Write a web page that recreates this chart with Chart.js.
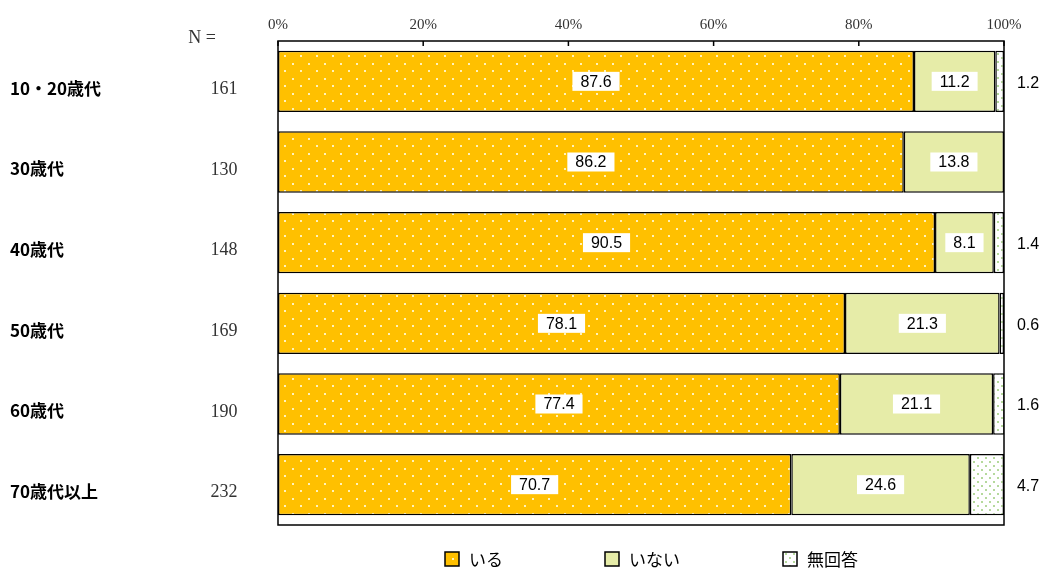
<!DOCTYPE html>
<html><head><meta charset="utf-8">
<script src="https://cdn.jsdelivr.net/npm/chart.js@4/dist/chart.umd.min.js"></script>
<style>html,body{margin:0;padding:0;background:#fff}#wrap{width:1045px;height:571px}</style>
</head><body><div id="wrap"><canvas id="c" width="1045" height="571"></canvas></div>
<script>
const categories = ["10・20歳代","30歳代","40歳代","50歳代","60歳代","70歳代以上"];
const nValues = ["161","130","148","169","190","232"];
const seriesNames = ["いる","いない","無回答"];
const iru = [87.6,86.2,90.5,78.1,77.4,70.7];
const inai = [11.2,13.8,8.1,21.3,21.1,24.6];
const mukaito = [1.2,0,1.4,0.6,1.6,4.7];
const tickValues = [0,20,40,60,80,100];

function makePattern(bg, dot, w, h, dots, r){
  const c = document.createElement('canvas'); c.width=w; c.height=h;
  const g = c.getContext('2d');
  g.fillStyle=bg; g.fillRect(0,0,w,h);
  g.fillStyle=dot;
  dots.forEach(d=>{g.fillRect(d[0],d[1],r,r);});
  return g.createPattern(c,'repeat');
}
const patOrange = makePattern('#FFC000','rgba(255,250,220,0.85)',16,15,[[4,3],[12,10]],2);
const patWhite = makePattern('#FFFFFF','#B5D99C',8,8,[[1,1],[5,5]],2);
const colGreen = '#E6ECA8';

const sans = "'Liberation Sans', Arial, sans-serif";
const serif = "'Liberation Serif', 'DejaVu Serif', serif";
const jp = "'Noto Sans CJK JP', sans-serif";

const overlay = {
  id:'overlay',
  afterDatasetsDraw(chart){
    const g = chart.ctx, ca = chart.chartArea;
    const xs = chart.scales.x, ys = chart.scales.y;
    g.save();
    g.strokeStyle='#000'; g.lineWidth=1.5;
    g.strokeRect(ca.left, ca.top, ca.right-ca.left, ca.bottom-ca.top);
    tickValues.forEach(v=>{
      const x = xs.getPixelForValue(v);
      g.beginPath(); g.moveTo(x, ca.top); g.lineTo(x, ca.top+5); g.stroke();
    });
    g.textAlign='center'; g.textBaseline='middle';
    g.font = "16px "+sans;
    const meta0 = chart.getDatasetMeta(0), meta1 = chart.getDatasetMeta(1);
    [ [iru,meta0], [inai,meta1] ].forEach(([arr,meta])=>{
      arr.forEach((v,i)=>{
        const el = meta.data[i];
        const cx = (el.x + el.base)/2, cy = el.y;
        const t = v.toFixed(1);
        const w = g.measureText(t).width + 16;
        g.fillStyle='#fff'; g.fillRect(cx-w/2, cy-9.5, w, 19);
        g.fillStyle='#000'; g.fillText(t, cx, cy+1);
      });
    });
    mukaito.forEach((v,i)=>{
      if(v>0){
        const y = ys.getPixelForValue(i);
        g.fillStyle='#000'; g.fillText(v.toFixed(1), 1028, y+2);
      }
    });
    g.textAlign='left';
    g.font = "bold 17px "+jp;
    categories.forEach((c,i)=>{
      const y = ys.getPixelForValue(i);
      g.fillStyle='#000'; g.fillText(c, 10, y+7);
    });
    g.textAlign='center';
    g.font = "18px "+serif;
    g.fillStyle='#333';
    nValues.forEach((n,i)=>{
      const y = ys.getPixelForValue(i);
      g.fillText(n, 224, y+8);
    });
    g.fillText("N =", 202, 38);
    const leg = [[445,patOrange],[605,colGreen],[783,patWhite]];
    g.font = "17px "+jp; g.textAlign='left';
    leg.forEach((l,i)=>{
      g.fillStyle=l[1]; g.fillRect(l[0],552,14,14);
      g.strokeStyle='#000'; g.lineWidth=1.5; g.strokeRect(l[0],552,14,14);
      g.fillStyle='#000'; g.fillText(seriesNames[i], l[0]+24, 560);
    });
    g.restore();
  }
};

new Chart(document.getElementById('c'), {
  type:'bar',
  data:{
    labels: categories,
    datasets:[
      {label:seriesNames[0], data:iru, backgroundColor:patOrange},
      {label:seriesNames[1], data:inai, backgroundColor:colGreen},
      {label:seriesNames[2], data:mukaito, backgroundColor:patWhite}
    ].map(d=>Object.assign(d,{borderColor:'#000',borderWidth:1.5,borderSkipped:false,barPercentage:0.76,categoryPercentage:1}))
  },
  options:{
    indexAxis:'y',
    responsive:false,
    animation:false,
    devicePixelRatio:1,
    layout:{padding:{left:278,right:41,top:0,bottom:46}},
    plugins:{legend:{display:false},tooltip:{enabled:false}},
    scales:{
      x:{
        position:'top', stacked:true, min:0, max:100,
        afterBuildTicks(s){ s.ticks = tickValues.map(v=>({value:v})); },
        afterFit(s){ s.height = 41; },
        grid:{display:false, drawTicks:false}, border:{display:false},
        ticks:{callback:v=>v+'%', font:{family:serif,size:15}, color:'#333', padding:7, maxRotation:0, autoSkip:false}
      },
      y:{stacked:true, display:false}
    }
  },
  plugins:[overlay]
});
</script></body></html>
